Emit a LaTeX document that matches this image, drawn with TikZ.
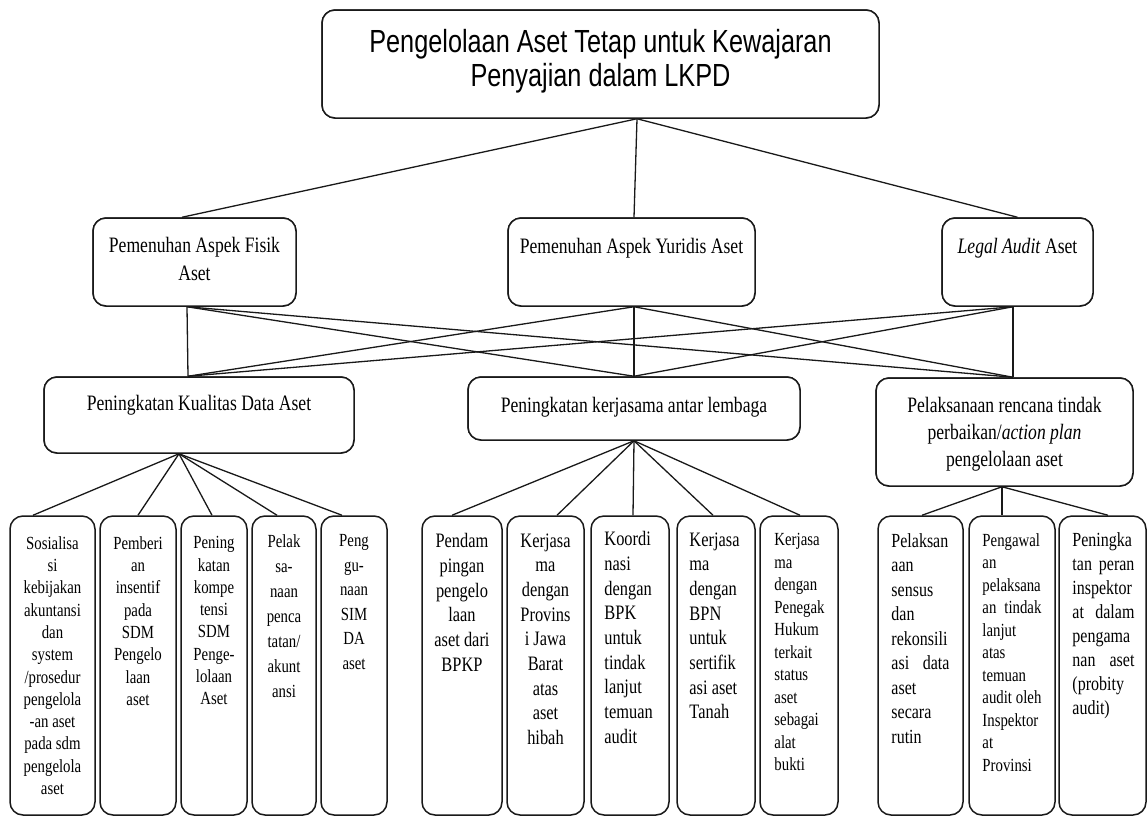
\documentclass[tikz,border=0pt]{standalone}
\usepackage{fontspec}
\setmainfont{Liberation Serif}[FakeStretch=0.8]
\newfontfamily\titlefont{Liberation Sans}[FakeStretch=0.79]
\tikzset{
  box/.style={draw=black!90, line width=1.5pt, rounded corners=13pt, inner sep=0pt, fill=white},
  conn/.style={draw=black!90, line width=1.3pt},
  titletxt/.style={inner sep=0pt, align=center, font=\titlefont\fontsize{32}{34}\selectfont},
  midtxt/.style={inner sep=0pt, align=center, font=\fontsize{22}{28}\selectfont},
  btxt/.style={inner sep=0pt, align=center, font=\fontsize{18.5}{22.3}\selectfont},
  ctxt/.style={inner sep=0pt, align=center, font=\fontsize{20.5}{24.7}\selectfont},
  cltxt/.style={inner sep=0pt, align=left, font=\fontsize{20.5}{24.7}\selectfont},
  csltxt/.style={inner sep=0pt, align=left, font=\fontsize{18.5}{22.5}\selectfont},
  dtxt/.style={inner sep=0pt, align=left, font=\fontsize{20}{24.5}\selectfont},
  dstxt/.style={inner sep=0pt, align=left, font=\fontsize{18.5}{22.5}\selectfont},
  bbox/.style={box, minimum height=299pt},
}
\begin{document}
\begin{tikzpicture}[x=1pt,y=1pt]
\useasboundingbox (0,0) rectangle (1148,-817);

% ---------- boxes (for anchors) ----------
\path node[box, minimum width=557pt, minimum height=108pt] (T) at (600.5,-64) {};
\path node[box, minimum width=203pt, minimum height=88pt] (F) at (194.5,-262) {};
\path node[box, minimum width=247pt, minimum height=88pt] (Y) at (631.5,-262) {};
\path node[box, minimum width=151pt, minimum height=88pt] (L) at (1017.5,-262) {};
\path node[box, minimum width=310pt, minimum height=76pt] (K) at (199,-415) {};
\path node[box, minimum width=332pt, minimum height=63pt] (J) at (634,-408.5) {};
\path node[box, minimum width=257pt, minimum height=108pt] (P) at (1004.5,-432) {};

\node[bbox, minimum width=85pt] (B1) at (52.5,-665.5) {};
\node[bbox, minimum width=76pt] (B2) at (138,-665.5) {};
\node[bbox, minimum width=66pt] (B3) at (214,-665.5) {};
\node[bbox, minimum width=64pt] (B4) at (284,-665.5) {};
\node[bbox, minimum width=66pt] (B5) at (354,-665.5) {};
\node[bbox, minimum width=80pt] (C1) at (462,-665.5) {};
\node[bbox, minimum width=77pt] (C2) at (545.5,-665.5) {};
\node[bbox, minimum width=78pt] (C3) at (630,-665.5) {};
\node[bbox, minimum width=78pt] (C4) at (716,-665.5) {};
\node[bbox, minimum width=78pt] (C5) at (799,-665.5) {};
\node[bbox, minimum width=85pt] (D1) at (920.5,-665.5) {};
\node[bbox, minimum width=86pt] (D2) at (1012,-665.5) {};
\node[bbox, minimum width=87pt] (D3) at (1102.5,-665.5) {};

% ---------- connectors ----------
\draw[conn] ([xshift=36.5pt]T.south) -- ([xshift=-12.5pt]F.north);
\draw[conn] ([xshift=36.5pt]T.south) -- ([xshift=2.5pt]Y.north);
\draw[conn] ([xshift=36.5pt]T.south) -- (L.north);

\foreach \s/\sx in {F/-7.5, Y/2.5, L/-4.5}{
  \draw[conn] ([xshift=\sx pt]\s.south) -- ([xshift=-11pt]K.north);
  \draw[conn] ([xshift=\sx pt]\s.south) -- (J.north);
  \draw[conn] ([xshift=\sx pt]\s.south) -- ([xshift=8.5pt]P.north);
}

\foreach \t/\tx in {B1/-19.5, B2/0, B3/-2, B4/-7, B5/-12}{
  \draw[conn] ([xshift=-20pt]K.south) -- ([xshift=\tx pt]\t.north);
}
\foreach \t/\tx in {C1/-10, C2/11.5, C3/3, C4/-3, C5/1}{
  \draw[conn] (J.south) -- ([xshift=\tx pt]\t.north);
}
\foreach \t/\tx in {D1/1.5, D2/-10, D3/5.5}{
  \draw[conn] ([xshift=-2.5pt]P.south) -- ([xshift=\tx pt]\t.north);
}

% redraw boxes on top of connector ends
\node[box, minimum width=557pt, minimum height=108pt] (T2) at (T) {};
\node[box, minimum width=203pt, minimum height=88pt] (F2) at (F) {};
\node[box, minimum width=247pt, minimum height=88pt] (Y2) at (Y) {};
\node[box, minimum width=151pt, minimum height=88pt] (L2) at (L) {};
\node[box, minimum width=310pt, minimum height=76pt] (K2) at (K) {};
\node[box, minimum width=332pt, minimum height=63pt] (J2) at (J) {};
\node[box, minimum width=257pt, minimum height=108pt] (P2) at (P) {};

% ---------- texts ----------
\node[titletxt, anchor=north] (Tt) at ([yshift=-20pt]T.north) {Pengelolaan Aset Tetap untuk Kewajaran\\Penyajian dalam LKPD};

\node[midtxt, anchor=north] (Ft) at ([yshift=-20pt]F.north) {Pemenuhan Aspek Fisik\\Aset};
\node[midtxt, anchor=north] (Yt) at ([yshift=-21pt]Y.north) {Pemenuhan Aspek Yuridis Aset};
\node[midtxt, anchor=north] (Lt) at ([yshift=-21pt]L.north) {\textit{Legal Audit} Aset};

\node[midtxt, anchor=north] (Kt) at ([yshift=-19pt]K.north) {Peningkatan Kualitas Data Aset};
\node[midtxt, anchor=north] (Jt) at ([yshift=-21pt]J.north) {Peningkatan kerjasama antar lembaga};
\node[midtxt, anchor=north, font=\fontsize{22}{27}\selectfont] (Pt) at ([yshift=-20pt]P.north) {Pelaksanaan rencana tindak\\perbaikan/\textit{action plan}\\pengelolaan aset};

\node[btxt, anchor=north] (B1t) at ([yshift=-21pt]B1.north) {Sosialisa\\si\\kebijakan\\akuntansi\\dan\\system\\/prosedur\\pengelola\\-an aset\\pada sdm\\pengelola\\aset};
\node[btxt, anchor=north] (B2t) at ([yshift=-21pt]B2.north) {Pemberi\\an\\insentif\\pada\\SDM\\Pengelo\\laan\\aset};
\node[btxt, anchor=north] (B3t) at ([yshift=-21pt]B3.north) {Pening\\katan\\kompe\\tensi\\SDM\\Penge-\\lolaan\\Aset};
\node[btxt, anchor=north, font=\fontsize{18.5}{25}\selectfont] (B4t) at ([yshift=-19pt]B4.north) {Pelak\\sa-\\naan\\penca\\tatan/\\akunt\\ansi};
\node[btxt, anchor=north, font=\fontsize{18.5}{24.5}\selectfont] (B5t) at ([yshift=-19pt]B5.north) {Peng\\gu-\\naan\\SIM\\DA\\aset};

\node[ctxt, anchor=north] (C1t) at ([yshift=-18pt]C1.north) {Pendam\\pingan\\pengelo\\laan\\aset dari\\BPKP};
\node[ctxt, anchor=north] (C2t) at ([yshift=-18pt]C2.north) {Kerjasa\\ma\\dengan\\Provins\\i Jawa\\Barat\\atas\\aset\\hibah};
\node[cltxt, anchor=north west] (C3t) at ([xshift=14pt,yshift=-16pt]C3.north west) {Koordi\\nasi\\dengan\\BPK\\untuk\\tindak\\lanjut\\temuan\\audit};
\node[cltxt, anchor=north west] (C4t) at ([xshift=13pt,yshift=-17pt]C4.north west) {Kerjasa\\ma\\dengan\\BPN\\untuk\\sertifik\\asi aset\\Tanah};
\node[csltxt, anchor=north west] (C5t) at ([xshift=15pt,yshift=-18pt]C5.north west) {Kerjasa\\ma\\dengan\\Penegak\\Hukum\\terkait\\status\\aset\\sebagai\\alat\\bukti};

\node[dtxt, anchor=north west] (D1t) at ([xshift=14pt,yshift=-18pt]D1.north west) {Pelaksan\\aan\\sensus\\dan\\rekonsili\\\hbox to 58pt{asi\hfill data}\\aset\\secara\\rutin};
\node[dstxt, anchor=north west] (D2t) at ([xshift=14pt,yshift=-18pt]D2.north west) {Pengawal\\an\\pelaksana\\\hbox to 59pt{an\hfill tindak}\\lanjut\\atas\\temuan\\\hbox to 59pt{audit\hfill oleh}\\Inspektor\\at\\Provinsi};
\node[dtxt, anchor=north west, font=\fontsize{20}{24}\selectfont] (D3t) at ([xshift=14pt,yshift=-17pt]D3.north west) {Peningka\\\hbox to 62pt{tan\hfill peran}\\inspektor\\\hbox to 62pt{at\hfill dalam}\\pengama\\\hbox to 62pt{nan\hfill aset}\\(probity\\audit)};
\end{tikzpicture}
\end{document}
